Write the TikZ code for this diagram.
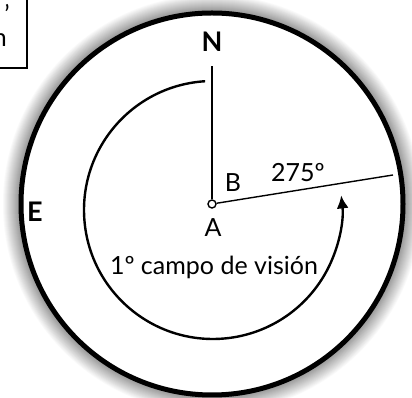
\documentclass[tikz,border=0pt]{standalone}
\usepackage{fontspec}
\setmainfont{Lato}
\usetikzlibrary{arrows.meta}

\begin{document}
\begin{tikzpicture}[x=1pt,y=1pt,
  every node/.style={font=\fontsize{25}{29}\selectfont,inner sep=0pt,anchor=base},
  heading/.style={font=\fontsize{27}{31}\selectfont\bfseries},
  ray/.style={line width=1.4pt},
  arrow/.style={-{Latex[length=13pt,width=12pt]},line width=2.4pt}
]
  \useasboundingbox (0,0) rectangle (412,398);
  \clip (0,0) rectangle (412,398);
  % soft shadow round the dial
  \foreach \i [evaluate=\i as \shade using 2.4*\i] in {0,...,17}
    \fill[black!\shade] (212,194) circle[radius=210-\i];
  \fill[white] (212,194) circle[radius=191];
  \draw[line width=5pt] (212,194) circle[radius=191];
  % caption box, cut by the page edge
  \draw[line width=1.4pt] (-30,430) rectangle (27,330);
  \node (capa) at (7,374.5) {’};
  \node[anchor=base east] (capb) at (7,351) {n};
  % pivot and rays
  \node[circle,draw,line width=1.4pt,fill=white,minimum size=8pt] (pivot) at (212,194) {};
  \coordinate (ntip) at (212,332);
  \coordinate (etip) at (393,223);
  \draw[ray] (pivot) -- (ntip);
  \draw[ray] (pivot) -- (etip);
  % field of view arc
  \coordinate (fov) at (213,188);
  \draw[arrow] ([shift={(93.5:129)}]fov) arc[start angle=93.5,end angle=366.5,radius=129];
  % labels
  \node[heading] (north) at (212,346) {N};
  \node[heading] (east) at (35,176) {E};
  \node (lblb) at (233,206) {B};
  \node (angle) at (298,216) {275º};
  \node (lbla) at (213,161) {A};
  \node (field) at (214,123) {1º campo de visión};
\end{tikzpicture}
\end{document}
